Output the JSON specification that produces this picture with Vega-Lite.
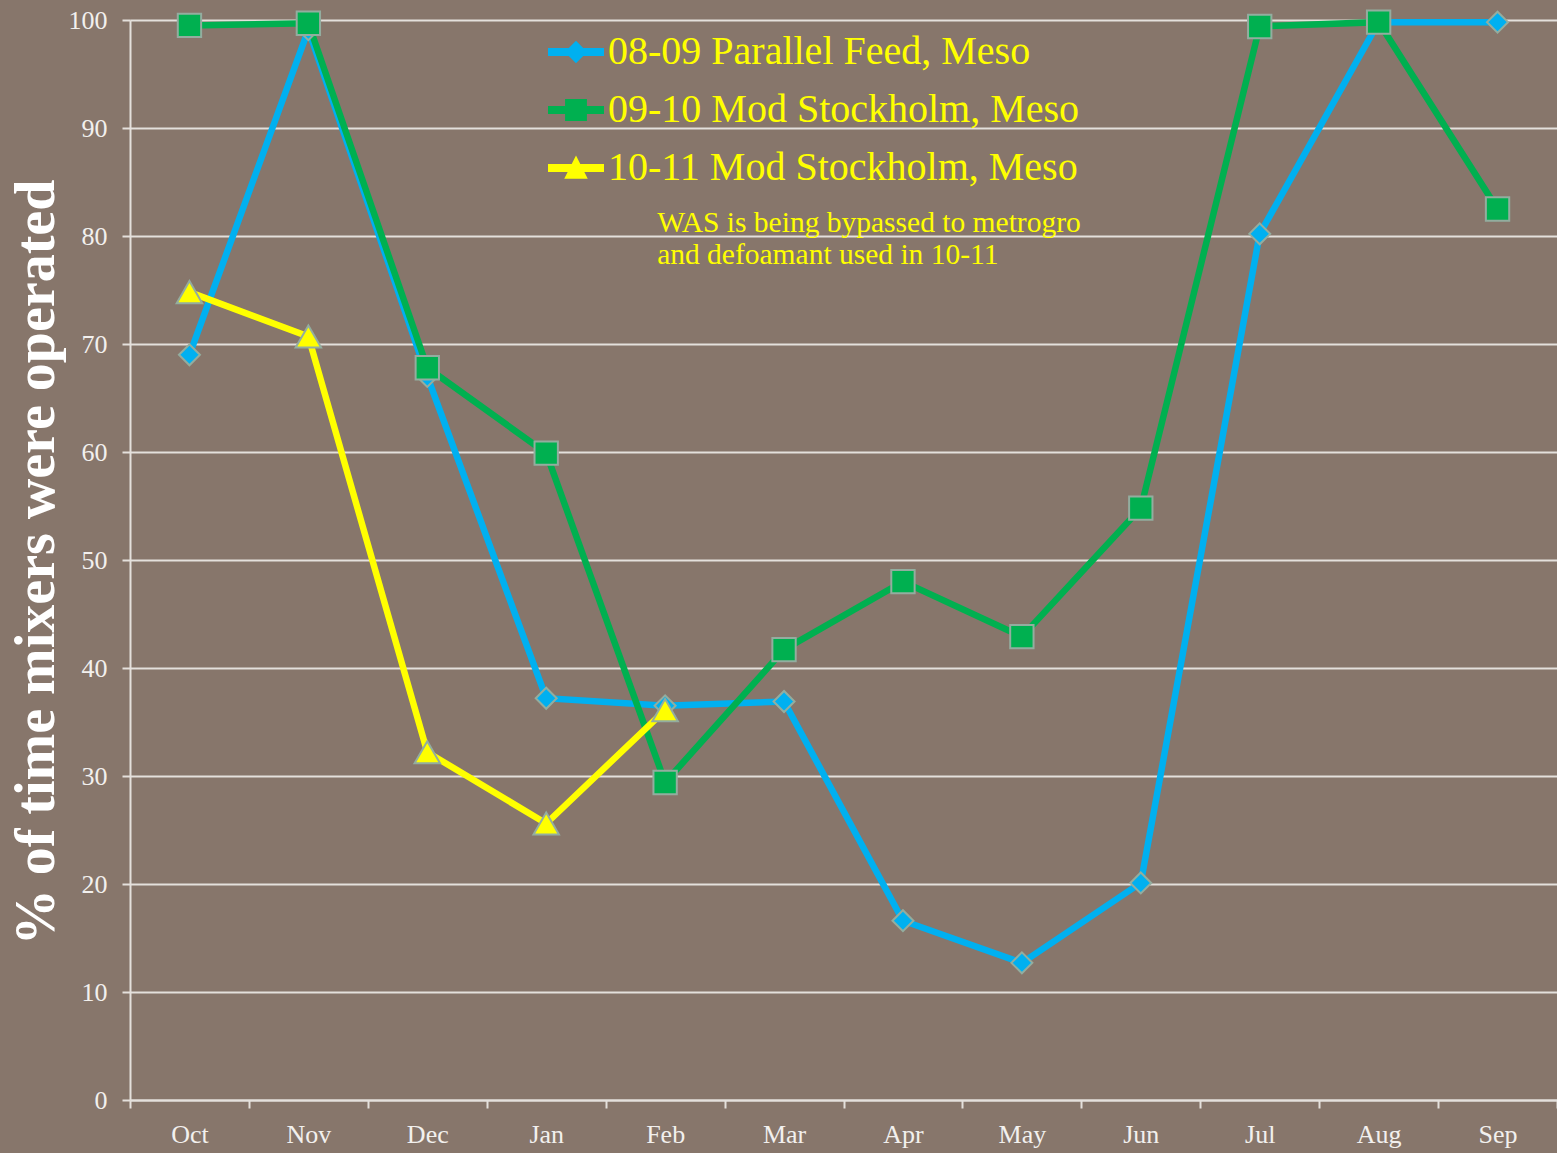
{
  "$schema": "https://vega.github.io/schema/vega-lite/v6.json",
  "width": 1427,
  "height": 1080,
  "autosize": "none",
  "padding": {"left": 130, "top": 20, "right": 0, "bottom": 53},
  "background": "#87766B",
  "config": {
    "view": {"stroke": null},
    "font": "Liberation Serif",
    "axis": {
      "labelFont": "Liberation Serif",
      "labelFontSize": 26,
      "labelColor": "#f2f0ee",
      "domainColor": "#e4e0dc",
      "domainWidth": 2,
      "tickColor": "#e4e0dc",
      "tickWidth": 2,
      "tickSize": 8,
      "gridColor": "#e4e0dc",
      "gridWidth": 2
    }
  },
  "resolve": {"legend": {"color": "independent", "shape": "independent", "size": "independent"}},
  "datasets": {
    "main": [
      {"month": "Oct", "series": "08-09 Parallel Feed, Meso", "value": 69.0},
      {"month": "Nov", "series": "08-09 Parallel Feed, Meso", "value": 99.1},
      {"month": "Dec", "series": "08-09 Parallel Feed, Meso", "value": 67.0},
      {"month": "Jan", "series": "08-09 Parallel Feed, Meso", "value": 37.2},
      {"month": "Feb", "series": "08-09 Parallel Feed, Meso", "value": 36.5},
      {"month": "Mar", "series": "08-09 Parallel Feed, Meso", "value": 36.9},
      {"month": "Apr", "series": "08-09 Parallel Feed, Meso", "value": 16.6},
      {"month": "May", "series": "08-09 Parallel Feed, Meso", "value": 12.7},
      {"month": "Jun", "series": "08-09 Parallel Feed, Meso", "value": 20.1},
      {"month": "Jul", "series": "08-09 Parallel Feed, Meso", "value": 80.2},
      {"month": "Aug", "series": "08-09 Parallel Feed, Meso", "value": 99.8},
      {"month": "Sep", "series": "08-09 Parallel Feed, Meso", "value": 99.8},
      {"month": "Oct", "series": "09-10 Mod Stockholm, Meso", "value": 99.5},
      {"month": "Nov", "series": "09-10 Mod Stockholm, Meso", "value": 99.7},
      {"month": "Dec", "series": "09-10 Mod Stockholm, Meso", "value": 67.8},
      {"month": "Jan", "series": "09-10 Mod Stockholm, Meso", "value": 59.9},
      {"month": "Feb", "series": "09-10 Mod Stockholm, Meso", "value": 29.4},
      {"month": "Mar", "series": "09-10 Mod Stockholm, Meso", "value": 41.7},
      {"month": "Apr", "series": "09-10 Mod Stockholm, Meso", "value": 48.0},
      {"month": "May", "series": "09-10 Mod Stockholm, Meso", "value": 42.9},
      {"month": "Jun", "series": "09-10 Mod Stockholm, Meso", "value": 54.8},
      {"month": "Jul", "series": "09-10 Mod Stockholm, Meso", "value": 99.4},
      {"month": "Aug", "series": "09-10 Mod Stockholm, Meso", "value": 99.8},
      {"month": "Sep", "series": "09-10 Mod Stockholm, Meso", "value": 82.5},
      {"month": "Oct", "series": "10-11 Mod Stockholm, Meso", "value": 74.8},
      {"month": "Nov", "series": "10-11 Mod Stockholm, Meso", "value": 70.7},
      {"month": "Dec", "series": "10-11 Mod Stockholm, Meso", "value": 32.2},
      {"month": "Jan", "series": "10-11 Mod Stockholm, Meso", "value": 25.6},
      {"month": "Feb", "series": "10-11 Mod Stockholm, Meso", "value": 36.1}
    ],
    "note": [
      {"month": "Feb", "value": 80.4, "note": ["WAS is being bypassed to metrogro", "and defoamant used in 10-11"]}
    ]
  },
  "encoding": {
    "x": {
      "field": "month",
      "type": "nominal",
      "sort": ["Oct", "Nov", "Dec", "Jan", "Feb", "Mar", "Apr", "May", "Jun", "Jul", "Aug", "Sep"],
      "scale": {"type": "band", "paddingInner": 0, "paddingOuter": 0},
      "axis": {"title": null, "labelAngle": 0, "grid": false, "tickBand": "extent", "labelPadding": 13}
    },
    "y": {
      "field": "value",
      "type": "quantitative",
      "scale": {"domain": [0, 100], "nice": false},
      "axis": {
        "title": "% of time mixers were operated",
        "titleFont": "Liberation Serif",
        "titleFontSize": 56,
        "titleFontWeight": "bold",
        "titleColor": "#ffffff",
        "titleAngle": -90,
        "titleX": -94,
        "titleY": 542,
        "titleAlign": "center",
        "titleBaseline": "middle",
        "values": [0, 10, 20, 30, 40, 50, 60, 70, 80, 90, 100],
        "labelPadding": 15,
        "grid": true
      }
    }
  },
  "layer": [
    {
      "data": {"name": "main"},
      "mark": {"type": "line", "strokeWidth": 6.5},
      "encoding": {
        "color": {
          "field": "series",
          "type": "nominal",
          "scale": {
            "domain": ["08-09 Parallel Feed, Meso", "09-10 Mod Stockholm, Meso", "10-11 Mod Stockholm, Meso"],
            "range": ["#00B0F0", "#00B050", "#FFFF00"]
          },
          "legend": {
            "title": null,
            "orient": "none",
            "legendX": 418,
            "legendY": 4,
            "symbolSize": 3136,
            "rowPadding": 10,
            "labelOffset": 4,
            "labelFont": "Liberation Serif",
            "labelFontSize": 40,
            "labelColor": "#FFFF00",
            "labelLimit": 1000,
            "encode": {
              "symbols": {
                "update": {
                  "shape": {"signal": "datum.value === '08-09 Parallel Feed, Meso' ? 'M-1,-0.14H1V0.14H-1Z M0,-0.4L0.4,0L0,0.4L-0.4,0Z' : datum.value === '09-10 Mod Stockholm, Meso' ? 'M-1,-0.14H1V0.14H-1Z M-0.39,-0.39H0.39V0.39H-0.39Z' : 'M-1,-0.14H1V0.14H-1Z M0,-0.45L0.42,0.38H-0.42Z'"},
                  "fill": {"signal": "datum.value === '08-09 Parallel Feed, Meso' ? '#00B0F0' : datum.value === '09-10 Mod Stockholm, Meso' ? '#00B050' : '#FFFF00'"},
                  "stroke": {"value": "transparent"},
                  "strokeWidth": {"value": 0},
                  "opacity": {"value": 1}
                }
              }
            }
          }
        }
      }
    },
    {
      "data": {"name": "main"},
      "mark": {"type": "point", "filled": true, "opacity": 1, "stroke": "#93ad9f", "strokeWidth": 2},
      "encoding": {
        "color": {"field": "series", "type": "nominal", "legend": null},
        "shape": {
          "field": "series",
          "type": "nominal",
          "scale": {
            "domain": ["08-09 Parallel Feed, Meso", "09-10 Mod Stockholm, Meso", "10-11 Mod Stockholm, Meso"],
            "range": ["diamond", "square", "triangle-up"]
          },
          "legend": null
        },
        "size": {
          "field": "series",
          "type": "nominal",
          "scale": {
            "domain": ["08-09 Parallel Feed, Meso", "09-10 Mod Stockholm, Meso", "10-11 Mod Stockholm, Meso"],
            "range": [440, 650, 750]
          },
          "legend": null
        }
      }
    },
    {
      "data": {"name": "note"},
      "mark": {"type": "text", "align": "left", "baseline": "alphabetic", "dx": -8, "font": "Liberation Serif", "fontSize": 29.5, "lineHeight": 32, "color": "#FFFF00"},
      "encoding": {
        "text": {"field": "note"}
      }
    }
  ]
}
